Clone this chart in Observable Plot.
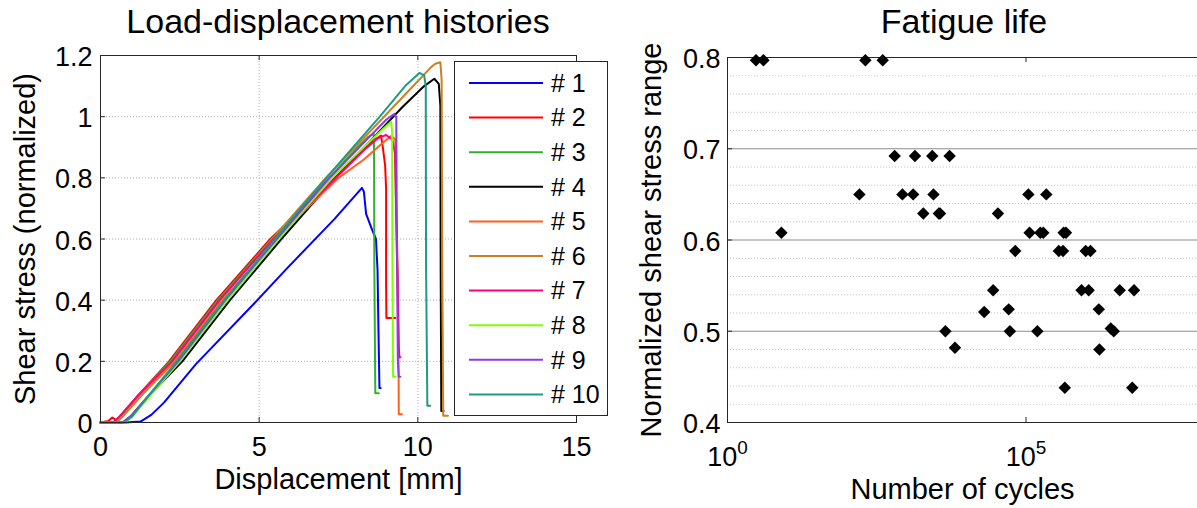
<!DOCTYPE html>
<html><head><meta charset="utf-8">
<script src="https://cdn.jsdelivr.net/npm/d3@7"></script>
<script src="https://cdn.jsdelivr.net/npm/@observablehq/plot@0.6"></script>
<style>
body{margin:0;background:#fff;font-family:"Liberation Sans",Arial,sans-serif;}
#wrap{position:relative;width:1197px;height:508px;overflow:hidden;background:#fff;}
.panel{position:absolute;top:0;}
.title{position:absolute;top:4px;font-size:34px;line-height:34px;white-space:nowrap;color:#000;transform:translateX(-50%);}
#legend{position:absolute;left:454px;top:61px;}
</style></head>
<body>
<div id="wrap">
  <div id="leftPanel" class="panel" style="left:0"></div>
  <div id="rightPanel" class="panel" style="left:620px"></div>
  <div class="title" style="left:338px">Load-displacement histories</div>
  <div class="title" style="left:964px">Fatigue life</div>
  <div id="legend"></div>
</div>
<script>
// ---------- Left panel data: load-displacement histories ----------
const specimens = ["# 1","# 2","# 3","# 4","# 5","# 6","# 7","# 8","# 9","# 10"];
const colors = ["#0000ff","#ff0000","#30b030","#000000","#ff6020","#cc8020","#ff0080","#80ff00","#8a3ce6","#1f9a86"];

const disp1 = [0, 0.8, 1.26, 1.6, 2.0, 3.0, 4.85, 5.84, 7.37, 8.24, 8.3, 8.37, 8.53, 8.68, 8.73, 8.76, 8.79, 8.83];
const stress1 = [0, 0, 0.003, 0.025, 0.065, 0.19, 0.39, 0.5, 0.665, 0.767, 0.755, 0.682, 0.638, 0.6, 0.5, 0.3, 0.113, 0.113];
const disp2 = [0, 0.25, 0.37, 0.5, 0.7, 1.2, 2.16, 3.65, 5.35, 6.35, 7.4, 7.89, 8.5, 8.84, 8.89, 8.97, 9.0, 9.0, 9.01, 9.29];
const stress2 = [0, 0.005, 0.016, 0.008, 0.03, 0.09, 0.2, 0.4, 0.6, 0.7, 0.8, 0.85, 0.915, 0.938, 0.905, 0.84, 0.764, 0.45, 0.342, 0.342];
const disp3 = [0, 0.45, 0.65, 1.2, 2.2, 3.7, 5.4, 6.3, 7.2, 8.1, 8.45, 8.61, 8.62, 8.63, 8.66, 8.77];
const stress3 = [0, 0, 0.02, 0.09, 0.2, 0.4, 0.6, 0.7, 0.8, 0.9, 0.935, 0.944, 0.9, 0.5, 0.096, 0.096];
const disp4 = [0, 0.7, 0.95, 1.5, 2.58, 4.08, 5.7, 6.55, 7.4, 8.5, 9.5, 10.2, 10.52, 10.66, 10.71, 10.72, 10.74, 10.81];
const stress4 = [0, 0, 0.02, 0.085, 0.2, 0.4, 0.6, 0.7, 0.8, 0.92, 1.03, 1.1, 1.124, 1.107, 1.036, 0.5, 0.038, 0.038];
const disp5 = [0, 0.5, 0.7, 1.3, 2.35, 3.85, 5.55, 6.5, 7.5, 8.3, 8.9, 9.14, 9.29, 9.31, 9.38, 9.4, 9.5];
const stress5 = [0, 0, 0.02, 0.09, 0.2, 0.4, 0.6, 0.7, 0.8, 0.86, 0.915, 0.936, 0.927, 0.75, 0.45, 0.027, 0.027];
const disp6 = [0, 0.5, 0.7, 1.3, 2.28, 3.78, 5.42, 6.25, 7.1, 8.8, 9.9, 10.42, 10.55, 10.71, 10.75, 10.77, 10.8, 10.95];
const stress6 = [0, 0, 0.02, 0.09, 0.2, 0.4, 0.6, 0.7, 0.8, 0.985, 1.105, 1.162, 1.173, 1.178, 1.12, 0.5, 0.022, 0.022];
const disp7 = [0, 0.4, 0.6, 1.2, 2.25, 3.75, 5.45, 6.45, 7.42, 8.3, 8.75, 9.0, 9.2, 9.28, 9.33, 9.4, 9.42, 9.45];
const stress7 = [0, 0, 0.02, 0.09, 0.2, 0.4, 0.6, 0.7, 0.8, 0.89, 0.93, 0.94, 0.925, 0.88, 0.6, 0.25, 0.213, 0.213];
const disp8 = [0, 0.75, 1.0, 1.5, 2.5, 4.0, 5.62, 6.45, 7.3, 8.3, 8.9, 9.16, 9.19, 9.2, 9.22, 9.3];
const stress8 = [0, 0, 0.02, 0.08, 0.2, 0.4, 0.6, 0.7, 0.8, 0.9, 0.96, 0.984, 0.95, 0.5, 0.15, 0.15];
const disp9 = [0, 0.7, 0.95, 1.45, 2.45, 3.93, 5.55, 6.38, 7.22, 8.3, 9.0, 9.26, 9.32, 9.34, 9.37, 9.4, 9.45];
const stress9 = [0, 0, 0.02, 0.08, 0.2, 0.4, 0.6, 0.7, 0.8, 0.915, 0.99, 1.009, 0.998, 0.6, 0.2, 0.15, 0.15];
const disp10 = [0, 0.75, 1.0, 1.45, 2.4, 3.9, 5.5, 6.3, 7.12, 8.8, 9.6, 10.05, 10.2, 10.25, 10.26, 10.3, 10.39];
const stress10 = [0, 0, 0.02, 0.08, 0.2, 0.4, 0.6, 0.7, 0.8, 1.0, 1.1, 1.143, 1.135, 1.1, 0.5, 0.055, 0.055];

const xTicksLeft = [0, 5, 10, 15];
const yTicksLeft = [0, 0.2, 0.4, 0.6, 0.8, 1, 1.2];

// ---------- Right panel data: fatigue life ----------
const cycles = [3, 4, 204, 398,
  8,
  162, 851, 1288, 2818, 109600, 218800,
  631, 1380, 2692, 5248,
  1905, 3467, 3631, 33900,
  114800, 173800, 195000, 426600, 467700,
  66070, 354800, 417000, 1000000, 1202000,
  28180, 851100, 1122000, 3715000, 6457000,
  51300, 1660000, 19950,
  4467, 53700, 154900, 2630000, 2951000,
  6457, 1698000,
  446700, 6026000];
const stressRange = [0.797, 0.797, 0.797, 0.797,
  0.608,
  0.65, 0.65, 0.65, 0.65, 0.65, 0.65,
  0.692, 0.692, 0.692, 0.692,
  0.629, 0.629, 0.629, 0.629,
  0.608, 0.608, 0.608, 0.608, 0.608,
  0.588, 0.588, 0.588, 0.588, 0.588,
  0.545, 0.545, 0.545, 0.545, 0.545,
  0.524, 0.524, 0.521,
  0.5, 0.5, 0.5, 0.503, 0.5,
  0.482, 0.48,
  0.438, 0.438];
const xTicksRight = [1, 1e5];
const yTicksRight = [0.4, 0.5, 0.6, 0.7, 0.8];
const yMinorRight = [0.42,0.44,0.46,0.48,0.52,0.54,0.56,0.58,0.62,0.64,0.66,0.68,0.72,0.74,0.76,0.78];

// ---------- build tables ----------
const dispAll = [disp1,disp2,disp3,disp4,disp5,disp6,disp7,disp8,disp9,disp10];
const stressAll = [stress1,stress2,stress3,stress4,stress5,stress6,stress7,stress8,stress9,stress10];
const curves = specimens.flatMap((s, i) => dispAll[i].map((x, j) => ({specimen: s, disp: x, stress: stressAll[i][j]})));
const fatigue = cycles.map((c, i) => ({cycles: c, range: stressRange[i]}));

const FONT = "Liberation Sans, Arial, sans-serif";
const frameColor = "#262626";

// ---------- left plot ----------
const LW = 620, LH = 508, LML = 100, LMR = 44, LMT = 55, LMB = 86;
const lInnerW = LW - LML - LMR, lInnerH = LH - LMT - LMB;
const left = Plot.plot({
  width: LW, height: LH,
  marginLeft: LML, marginRight: LMR, marginTop: LMT, marginBottom: LMB,
  style: {fontFamily: FONT, fontSize: "27px", color: "#000", background: "transparent", overflow: "visible"},
  x: {domain: [0, 15]},
  y: {domain: [0, 1.2]},
  color: {domain: specimens, range: colors},
  marks: [
    Plot.gridX({ticks: [5, 10], stroke: "#b0b0b0", strokeOpacity: 1, strokeDasharray: "1,2"}),
    Plot.gridY({ticks: [0.2, 0.4, 0.6, 0.8, 1], stroke: "#b0b0b0", strokeOpacity: 1, strokeDasharray: "1,2"}),
    Plot.line(curves, {x: "disp", y: "stress", z: "specimen", stroke: "specimen", strokeWidth: 2, strokeLinejoin: "round"}),
    Plot.frame({stroke: frameColor, strokeWidth: 1}),
    Plot.tickX(xTicksLeft, {x: d => d, stroke: frameColor, insetTop: lInnerH - 5}),
    Plot.tickX(xTicksLeft, {x: d => d, stroke: frameColor, insetBottom: lInnerH - 5}),
    Plot.tickY(yTicksLeft, {y: d => d, stroke: frameColor, insetRight: lInnerW - 5}),
    Plot.tickY(yTicksLeft, {y: d => d, stroke: frameColor, insetLeft: lInnerW - 5}),
    Plot.axisX({ticks: xTicksLeft, tickSize: 0, tickPadding: 14, fontSize: 27, label: null, tickFormat: d => String(d)}),
    Plot.axisY({ticks: yTicksLeft, tickSize: 0, tickPadding: 8, fontSize: 27, label: null, tickFormat: d => String(d), dy: 2}),
    Plot.text(["Displacement [mm]"], {frameAnchor: "bottom", dy: 57, text: d => d, fontSize: 29, lineAnchor: "middle", textAnchor: "middle"}),
    Plot.text(["Shear stress (normalized)"], {frameAnchor: "left", dx: -75, rotate: -90, text: d => d, fontSize: 29, lineAnchor: "middle", textAnchor: "middle"})
  ]
});
document.getElementById("leftPanel").appendChild(left);

// ---------- right plot ----------
const RW = 577, RH = 508, RML = 107, RMR = 0, RMT = 57, RMB = 86;
const rInnerW = RW - RML - RMR, rInnerH = RH - RMT - RMB;
const right = Plot.plot({
  width: RW, height: RH,
  marginLeft: RML, marginRight: RMR, marginTop: RMT, marginBottom: RMB,
  style: {fontFamily: FONT, fontSize: "27px", color: "#000", background: "transparent", overflow: "visible"},
  x: {type: "log", domain: [1, 7.46e7]},
  y: {domain: [0.4, 0.8]},
  marks: [
    Plot.gridY({ticks: yMinorRight, stroke: "#c0c0c0", strokeOpacity: 1, strokeDasharray: "1,2"}),
    Plot.gridY({ticks: [0.5, 0.6, 0.7], stroke: "#8c8c8c", strokeOpacity: 1}),
    Plot.ruleY([0.4, 0.8], {stroke: frameColor}),
    Plot.ruleX([1], {stroke: frameColor}),
    Plot.tickX(xTicksRight, {x: d => d, stroke: frameColor, insetTop: rInnerH - 5}),
    Plot.tickX(xTicksRight, {x: d => d, stroke: frameColor, insetBottom: rInnerH - 5}),
    Plot.tickY(yTicksRight, {y: d => d, stroke: frameColor, insetRight: rInnerW - 5}),
    Plot.dot(fatigue, {x: "cycles", y: "range", symbol: "diamond2", fill: "#000", stroke: "none", r: 5.6}),
    Plot.axisX({ticks: xTicksRight, tickSize: 0, tickPadding: 24, fontSize: 27, label: null, tickFormat: d => "10^" + Math.round(Math.log10(d))}),
    Plot.axisY({ticks: yTicksRight, tickSize: 0, tickPadding: 7, fontSize: 27, label: null, tickFormat: d => d.toFixed(1), dy: 2}),
    Plot.text(["Number of cycles"], {frameAnchor: "bottom", dy: 67, text: d => d, fontSize: 29, lineAnchor: "middle", textAnchor: "middle"}),
    Plot.text(["Normalized shear stress range"], {frameAnchor: "left", dx: -76, rotate: -90, text: d => d, fontSize: 29, lineAnchor: "middle", textAnchor: "middle"})
  ]
});
// superscript exponents for log tick labels
right.querySelectorAll("text").forEach(t => {
  const m = /^10\^(\d+)$/.exec(t.textContent);
  if (m) {
    t.textContent = "10";
    const ts = document.createElementNS("http://www.w3.org/2000/svg", "tspan");
    ts.setAttribute("dy", "-0.62em");
    ts.setAttribute("font-size", "0.7em");
    ts.textContent = m[1];
    t.appendChild(ts);
  }
});
document.getElementById("rightPanel").appendChild(right);

// ---------- legend ----------
const LEG_W = 154, LEG_H = 355;
const leg = d3.select("#legend").append("svg")
  .attr("width", LEG_W).attr("height", LEG_H)
  .style("display", "block").style("font-family", FONT);
leg.append("rect").attr("x", 0.5).attr("y", 0.5).attr("width", LEG_W - 1).attr("height", LEG_H - 1)
  .attr("fill", "#fff").attr("stroke", frameColor);
const rows = leg.selectAll("g.row").data(specimens).join("g")
  .attr("transform", (d, i) => `translate(0,${22 + i * 34.6})`);
rows.append("line").attr("x1", 15).attr("x2", 89).attr("y1", 0).attr("y2", 0)
  .attr("stroke", (d, i) => colors[i]).attr("stroke-width", 2);
rows.append("text").attr("x", 97).attr("y", 0).attr("dy", "0.35em")
  .attr("font-size", 25).attr("fill", "#000").text(d => d);
</script>
</body></html>
